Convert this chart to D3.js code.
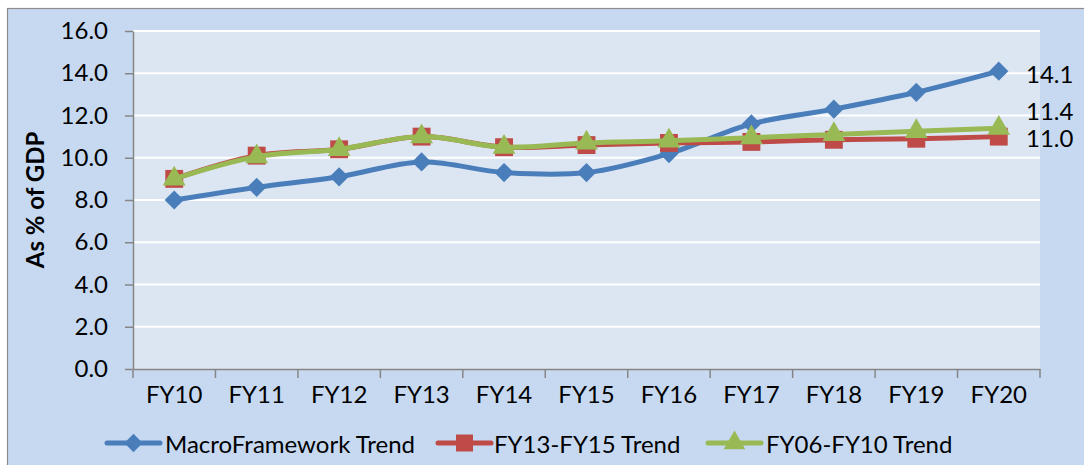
<!DOCTYPE html>
<html>
<head>
<meta charset="utf-8">
<script src="https://cdn.jsdelivr.net/npm/d3@7"></script>
<style>
  html, body { margin: 0; padding: 0; background: #ffffff; }
  svg { display: block; }
  text { font-family: Lato, "Open Sans", sans-serif; fill: #000; }
</style>
</head>
<body>
<svg id="chart" width="1084" height="465"></svg>
<script>
// Revenue projections, as % of GDP
const categories = ["FY10", "FY11", "FY12", "FY13", "FY14", "FY15", "FY16", "FY17", "FY18", "FY19", "FY20"];
const macroFramework = [8.0, 8.6, 9.1, 9.8, 9.3, 9.3, 10.2, 11.6, 12.3, 13.1, 14.1];
const fy13to15 = [9.0, 10.1, 10.4, 11.0, 10.5, 10.6, 10.7, 10.75, 10.85, 10.9, 11.0];
const fy06to10 = [9.0, 10.05, 10.4, 11.0, 10.5, 10.7, 10.8, 10.95, 11.1, 11.25, 11.4];
const yTicks = [0, 2, 4, 6, 8, 10, 12, 14, 16];
const seriesNames = ["MacroFramework Trend", "FY13-FY15 Trend", "FY06-FY10 Trend"];

const series = [
  { name: seriesNames[0], values: macroFramework, color: "#4a7ebb", marker: "diamond", labelDy: 2 },
  { name: seriesNames[1], values: fy13to15, color: "#be4b48", marker: "square", labelDy: 1 },
  { name: seriesNames[2], values: fy06to10, color: "#98b954", marker: "triangle", labelDy: -18 }
];

const FONT = 24;
const svg = d3.select("#chart");
const W = 1084, H = 465;
const plot = { left: 133, right: 1040, top: 31, bottom: 369 };

// chart area background with frame on the left and top
svg.append("rect").attr("x", 7.5).attr("y", 8.5).attr("width", W + 20).attr("height", H + 20)
  .attr("fill", "#c6d9f1").attr("stroke", "#8c8c8c").attr("stroke-width", 1.2);

// plot area
svg.append("rect").attr("x", plot.left).attr("y", plot.top)
  .attr("width", plot.right - plot.left).attr("height", plot.bottom - plot.top)
  .attr("fill", "#dce6f2");

const xBand = d3.scaleBand().domain(categories).range([plot.left, plot.right]).paddingInner(0).paddingOuter(0);
const x = d => xBand(d) + xBand.bandwidth() / 2;
const y = d3.scaleLinear().domain([0, 16]).range([plot.bottom, plot.top]);

// horizontal gridlines
svg.append("g").selectAll("line").data(yTicks.filter(t => t > 0)).join("line")
  .attr("x1", plot.left).attr("x2", plot.right)
  .attr("y1", d => y(d)).attr("y2", d => y(d))
  .attr("stroke", "#ffffff").attr("stroke-width", 2);

// y axis
const yAxis = svg.append("g").attr("transform", `translate(${plot.left},0)`)
  .call(d3.axisLeft(y).tickValues(yTicks).tickFormat(d3.format(".1f")).tickSize(8).tickSizeOuter(0).tickPadding(17));
yAxis.select(".domain").attr("stroke", "#868686").attr("stroke-width", 1.5);
yAxis.selectAll(".tick line").attr("stroke", "#868686").attr("stroke-width", 1.5);
yAxis.selectAll("text").attr("font-size", FONT).attr("font-family", "Lato, sans-serif").attr("fill", "#000");

// x axis: ticks sit between categories
const xAxis = svg.append("g").attr("transform", `translate(0,${plot.bottom})`)
  .call(d3.axisBottom(xBand).tickSize(0).tickPadding(0));
xAxis.select(".domain").attr("stroke", "#868686").attr("stroke-width", 1.5);
xAxis.selectAll("text").attr("font-size", FONT).attr("font-family", "Lato, sans-serif")
  .attr("fill", "#000").attr("y", 34).attr("dy", "0");
const boundaries = categories.map(c => xBand(c)).concat([xBand.range()[1]]);
xAxis.append("g").selectAll("line").data(boundaries).join("line")
  .attr("x1", d => d).attr("x2", d => d).attr("y1", 0).attr("y2", 9)
  .attr("stroke", "#868686").attr("stroke-width", 1.5);

// y axis title
svg.append("text")
  .attr("transform", `translate(44,200) rotate(-90)`)
  .attr("text-anchor", "middle")
  .attr("font-size", FONT).attr("font-weight", "bold")
  .text("As % of GDP");

function markerPath(type, scale) {
  const k = scale || 1;
  if (type === "diamond") return d3.symbol(d3.symbolSquare, 185 * k * k)();
  if (type === "square") return d3.symbol(d3.symbolSquare, 320 * k * k)();
  return d3.symbol(d3.symbolTriangle, 225 * k * k)();
}

const line = d3.line()
  .x((d, i) => x(categories[i]))
  .y(d => y(d))
  .curve(d3.curveCatmullRom.alpha(0.5));

series.forEach(s => {
  const g = svg.append("g");
  g.append("path").datum(s.values).attr("d", line)
    .attr("fill", "none").attr("stroke", s.color).attr("stroke-width", 5)
    .attr("stroke-linecap", "round").attr("stroke-linejoin", "round");
  g.selectAll("path.m").data(s.values).join("path").attr("class", "m")
    .attr("d", markerPath(s.marker))
    .attr("transform", (d, i) => `translate(${x(categories[i])},${y(d)})` + (s.marker === "diamond" ? " rotate(45)" : ""))
    .attr("fill", s.color);
});

// end-of-series value labels
series.forEach(s => {
  const last = s.values[s.values.length - 1];
  svg.append("text")
    .attr("x", 1026)
    .attr("y", y(last) + s.labelDy)
    .attr("dominant-baseline", "central")
    .attr("font-size", FONT)
    .text(d3.format(".1f")(last));
});

// legend
const legendItems = [
  { s: series[0], x0: 107, tx: 165 },
  { s: series[1], x0: 438, tx: 494 },
  { s: series[2], x0: 708, tx: 766 }
];
const ly = 443;
legendItems.forEach(it => {
  const g = svg.append("g");
  g.append("line").attr("x1", it.x0).attr("x2", it.x0 + 53).attr("y1", ly).attr("y2", ly)
    .attr("stroke", it.s.color).attr("stroke-width", 5).attr("stroke-linecap", "round");
  g.append("path").attr("d", markerPath(it.s.marker, 0.95))
    .attr("transform", `translate(${it.x0 + 26.5},${ly})` + (it.s.marker === "diamond" ? " rotate(45)" : ""))
    .attr("fill", it.s.color);
  g.append("text").attr("x", it.tx).attr("y", ly).attr("dominant-baseline", "central")
    .attr("font-size", FONT).text(it.s.name);
});
</script>
</body>
</html>
